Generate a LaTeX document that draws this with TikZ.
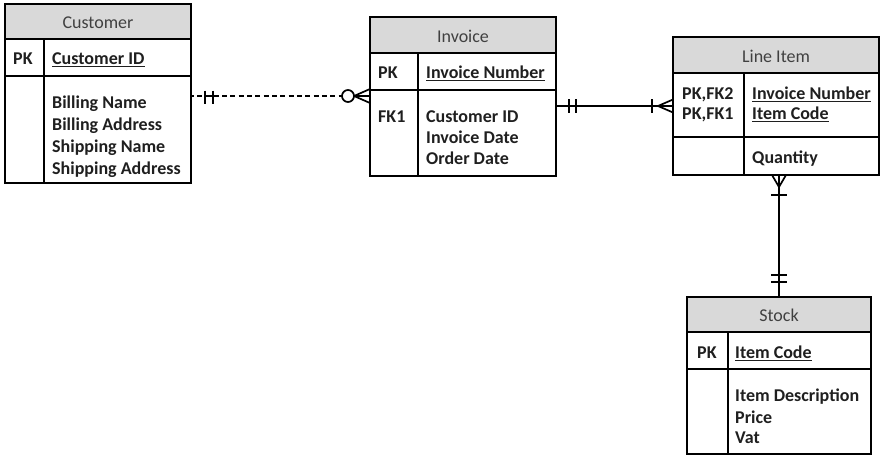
\documentclass[tikz,border=0pt]{standalone}
\usepackage{fontspec}
\setmainfont{Carlito}
\definecolor{hdrgray}{HTML}{D9D9D9}
\begin{document}
\begin{tikzpicture}[x=1pt,y=-1pt,
  box/.style={draw, line width=1.3pt, rectangle, inner sep=0pt, outer sep=0pt, anchor=north west},
  rulel/.style={line width=1.3pt},
  ttl/.style={anchor=base, inner sep=0pt, text=black!75, font=\fontsize{18}{22}\selectfont},
  fld/.style={anchor=base west, inner sep=0pt, text=black!88, font=\fontsize{18}{22}\selectfont\bfseries},
  uline/.style={line width=1.2pt, black!88},
  conn/.style={line width=1.7pt},
  dashconn/.style={line width=1.7pt, dash pattern=on 5pt off 3.33pt, dash phase=2.3pt},
]
\useasboundingbox (0,0) rectangle (880,455);

% ---------------- Customer
\fill[hdrgray] (5,4) rectangle (191,39);
\node[box, minimum width=186pt, minimum height=179pt] (cust) at (5,4) {};
\draw[rulel] (5,39) -- (191,39) (5,76) -- (191,76) (44,39) -- (44,183);
\node[ttl] (custT) at (98,28) {Customer};
\node[fld] (custPK) at (13,64) {PK};
\node[fld] (custID) at (52,64) {Customer ID};
\draw[uline] ([yshift=-2.5pt]custID.base west) -- ([yshift=-2.5pt]custID.base east);
\node[fld] (custA1) at (52,108) {Billing Name};
\node[fld] (custA2) at (52,130) {Billing Address};
\node[fld] (custA3) at (52,152) {Shipping Name};
\node[fld] (custA4) at (52,174) {Shipping Address};

% ---------------- Invoice
\fill[hdrgray] (370,17) rectangle (556,53);
\node[box, minimum width=186pt, minimum height=159pt] (inv) at (370,17) {};
\draw[rulel] (370,53) -- (556,53) (370,90) -- (556,90) (418,53) -- (418,176);
\node[ttl] (invT) at (463,42) {Invoice};
\node[fld] (invPK) at (378,78) {PK};
\node[fld] (invNo) at (426,78) {Invoice Number};
\draw[uline] ([yshift=-2.5pt]invNo.base west) -- ([yshift=-2.5pt]invNo.base east);
\node[fld] (invFK) at (378,122) {FK1};
\node[fld] (invA1) at (426,122) {Customer ID};
\node[fld] (invA2) at (426,143) {Invoice Date};
\node[fld] (invA3) at (426,164) {Order Date};

% ---------------- Line Item
\fill[hdrgray] (673,37) rectangle (879,73);
\node[box, minimum width=206pt, minimum height=138pt] (li) at (673,37) {};
\draw[rulel] (673,73) -- (879,73) (673,137) -- (879,137) (744,73) -- (744,175);
\node[ttl] (liT) at (776,62) {Line Item};
\node[fld] (liK1) at (682,99) {PK,FK2};
\node[fld] (liK2) at (682,119) {PK,FK1};
\node[fld] (liNo) at (752,99) {Invoice Number};
\node[fld] (liIC) at (752,119) {Item Code};
\draw[uline] ([yshift=-2.5pt]liNo.base west) -- ([yshift=-2.5pt]liNo.base east);
\draw[uline] ([yshift=-2.5pt]liIC.base west) -- ([yshift=-2.5pt]liIC.base east);
\node[fld] (liQ) at (752,163) {Quantity};

% ---------------- Stock
\fill[hdrgray] (687,297) rectangle (871,332);
\node[box, minimum width=184pt, minimum height=157pt] (st) at (687,297) {};
\draw[rulel] (687,332) -- (871,332) (687,369) -- (871,369) (728,332) -- (728,454);
\node[ttl] (stT) at (779,321) {Stock};
\node[fld] (stPK) at (697,358) {PK};
\node[fld] (stIC) at (735,358) {Item Code};
\draw[uline] ([yshift=-2.5pt]stIC.base west) -- ([yshift=-2.5pt]stIC.base east);
\node[fld] (stA1) at (735,401) {Item Description};
\node[fld] (stA2) at (735,423) {Price};
\node[fld] (stA3) at (735,443) {Vat};

% ---------------- Customer -- Invoice (one, zero-or-many), dashed
\coordinate (r1a) at (cust.east |- 0,96);
\coordinate (r1b) at (inv.west |- 0,96);
\draw[dashconn] (r1a) -- (r1b);
\draw[conn] (205,96) -- (213,96);
\draw[conn] (205,90.5) -- (205,104) (213,90.5) -- (213,104);
\node[circle, draw, fill=white, line width=1.7pt, minimum size=12pt, inner sep=0pt] (zc) at (348,96) {};
\draw[conn] (zc.east) -- (r1b);
\draw[conn] (354,96) -- (370,89) (354,96) -- (370,103);

% ---------------- Invoice -- Line Item (one-and-only-one, one-or-many)
\coordinate (r2a) at (inv.east |- 0,106);
\coordinate (r2b) at (li.west |- 0,106);
\draw[conn] (r2a) -- (r2b);
\draw[conn] (569,99) -- (569,113) (576,99) -- (576,113);
\draw[conn] (652,99) -- (652,113);
\draw[conn] (658,106) -- (673,99.5) (658,106) -- (673,112.5);

% ---------------- Line Item -- Stock (one-or-many, one-and-only-one)
\coordinate (r3a) at (li.south -| 779,0);
\coordinate (r3b) at (st.north -| 779,0);
\draw[conn] (r3a) -- (r3b);
\draw[conn] (779,187) -- (772,175) (779,187) -- (786,175);
\draw[conn] (771,195) -- (787,195);
\draw[conn] (771,275) -- (787,275) (771,282) -- (787,282);
\end{tikzpicture}
\end{document}
